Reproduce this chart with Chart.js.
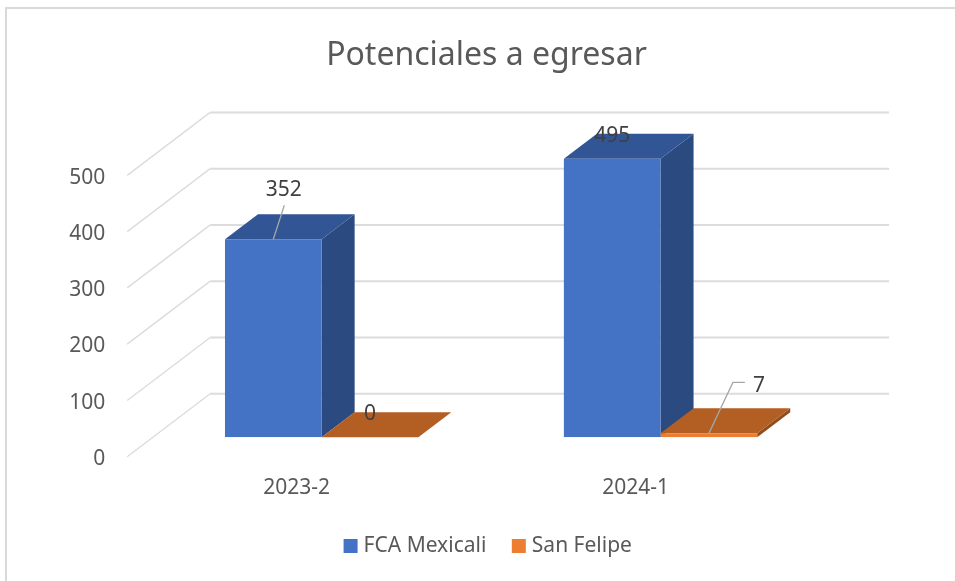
<!DOCTYPE html>
<html>
<head>
<meta charset="utf-8">
<title>Potenciales a egresar</title>
<script src="https://cdn.jsdelivr.net/npm/chart.js@4"></script>
<style>
    html, body { margin: 0; background: #fff; overflow: hidden; }
    #marco { position: absolute; left: 5px; top: 7px; right: 0; bottom: 0; border-left: 2px solid #d9d9d9; border-top: 2px solid #d9d9d9; }
    #potenciales { position: absolute; left: 0; top: 0; }
</style>
</head>
<body>
<div id="marco"></div>
<canvas id="potenciales" width="955" height="581"></canvas>
<script>
const periodos = ["2023-2", "2024-1"];
const fcaMexicali = [352, 495];
const sanFelipe = [0, 7];
const ticksEje = [0, 100, 200, 300, 400, 500];

const ctx = document.getElementById("potenciales").getContext("2d");
const fuente = "'Noto Sans', 'Open Sans', sans-serif";

// profundidad de las barras y de las paredes, Chart.js solo dibuja 2D
const fondoBarra = { dx: 33, dy: 25 };
const colores = [
    { frente: "#4472C4", tapa: "#325596", lado: "#2A4A80" },
    { frente: "#ED7D31", tapa: "#B35E22", lado: "#8F4E1D" }
];

function poligono(c, puntos, color) {
    c.fillStyle = color;
    c.beginPath();
    puntos.forEach(p => c.lineTo(p[0], p[1]));
    c.closePath();
    c.fill();
}

const paredes = {
    id: "paredes",
    beforeDatasetsDraw(chart) {
        const c = chart.ctx;
        const area = chart.chartArea;
        const y = chart.scales.y;
        c.save();
        c.strokeStyle = "#dcdcdc";
        ticksEje.forEach(v => {
            const py = y.getPixelForValue(v);
            c.lineWidth = 1.4;
            c.beginPath();
            c.moveTo(area.left - 25, py + 19.4);
            c.lineTo(area.left + 58, py - 43.6);
            c.stroke();
            c.lineWidth = 2;
            c.beginPath();
            c.moveTo(area.left + 58, py - 43.6);
            c.lineTo(area.right + 59, py - 43.6);
            c.stroke();
        });
        c.restore();
    }
};

const profundidad = {
    id: "profundidad",
    beforeDatasetsDraw(chart) {
        const c = chart.ctx;
        const { dx, dy } = fondoBarra;
        chart.data.datasets.forEach((ds, i) => {
            chart.getDatasetMeta(i).data.forEach(barra => {
                const izq = barra.x - barra.width / 2;
                const der = barra.x + barra.width / 2;
                poligono(c, [[der, barra.y], [der + dx, barra.y - dy], [der + dx, barra.base - dy], [der, barra.base]], colores[i].lado);
                poligono(c, [[izq, barra.y], [izq + dx, barra.y - dy], [der + dx, barra.y - dy], [der, barra.y]], colores[i].tapa);
            });
        });
    }
};

const etiquetas = {
    id: "etiquetas",
    afterDatasetsDraw(chart) {
        const c = chart.ctx;
        const b352 = chart.getDatasetMeta(0).data[0];
        const b495 = chart.getDatasetMeta(0).data[1];
        const b0 = chart.getDatasetMeta(1).data[0];
        const b7 = chart.getDatasetMeta(1).data[1];

        c.save();
        c.strokeStyle = "#a6a6a6";
        c.lineWidth = 1.3;
        c.beginPath();
        c.moveTo(b352.x + 11, b352.y - 34);
        c.lineTo(b352.x, b352.y);
        c.stroke();
        c.beginPath();
        c.moveTo(b7.x + 36, b7.y - 51);
        c.lineTo(b7.x + 24, b7.y - 51);
        c.lineTo(b7.x, b7.y);
        c.stroke();

        c.fillStyle = "#404040";
        c.font = "21px " + fuente;
        c.textAlign = "center";
        c.textBaseline = "middle";
        c.fillText(fcaMexicali[0], b352.x + 10.4, b352.y - 49.5);
        c.fillText(fcaMexicali[1], b495.x, b495.y - 22.5);
        c.fillText(sanFelipe[0], b0.x, b0.y - 23.5);
        c.fillText(sanFelipe[1], b7.x + 50, b7.y - 47.5);
        c.restore();
    }
};

// la leyenda del original va un poco a la derecha del centro
const moverLeyenda = {
    id: "moverLeyenda",
    afterLayout(chart) {
        chart.legend.left += 3.5;
        chart.legend.right += 3.5;
    }
};

const config = {
    type: "bar",
    data: {
        labels: periodos,
        datasets: [
            { label: "FCA Mexicali", data: fcaMexicali, backgroundColor: colores[0].frente },
            { label: "San Felipe", data: sanFelipe, backgroundColor: colores[1].frente }
        ]
    },
    options: {
        responsive: false,
        animation: false,
        layout: { padding: { left: 18, right: 0, top: 0, bottom: 14.5 } },
        datasets: { bar: { categoryPercentage: 0.5705, barPercentage: 1 } },
        scales: {
            x: {
                grid: { display: false, drawTicks: false },
                border: { display: false },
                ticks: { color: "#595959", font: { family: fuente, size: 21 }, labelOffset: -25, padding: 38.5, maxRotation: 0 },
                afterFit: s => { s.height = 68.2; }
            },
            y: {
                min: 0,
                max: 500,
                grid: { display: false, drawTicks: false },
                border: { display: false },
                afterBuildTicks: s => { s.ticks = ticksEje.map(v => ({ value: v })); },
                ticks: { color: "#595959", font: { family: fuente, size: 21 }, labelOffset: 21.6, padding: 47 },
                afterFit: s => { s.width = 134.2; }
            },
            // eje vacio a la derecha, solo reserva el hueco del fondo
            hueco: {
                position: "right",
                grid: { display: false, drawTicks: false },
                border: { display: false },
                ticks: { display: false },
                afterFit: s => { s.width = 125; }
            }
        },
        plugins: {
            tooltip: { enabled: false },
            title: {
                display: true,
                text: "Potenciales a egresar",
                color: "#595959",
                font: { family: fuente, size: 32, weight: "normal" },
                padding: { top: 36.5, bottom: 81.1 }
            },
            legend: {
                position: "bottom",
                labels: {
                    color: "#595959",
                    font: { family: fuente, size: 21 },
                    boxWidth: 5,
                    boxHeight: 5,
                    padding: 30,
                    generateLabels: chart => Chart.defaults.plugins.legend.labels.generateLabels(chart)
                        .map(l => ({ ...l, lineWidth: 9, strokeStyle: l.fillStyle }))
                }
            }
        }
    },
    plugins: [paredes, profundidad, etiquetas, moverLeyenda]
};

const grafica = new Chart(ctx, config);
</script>
</body>
</html>
